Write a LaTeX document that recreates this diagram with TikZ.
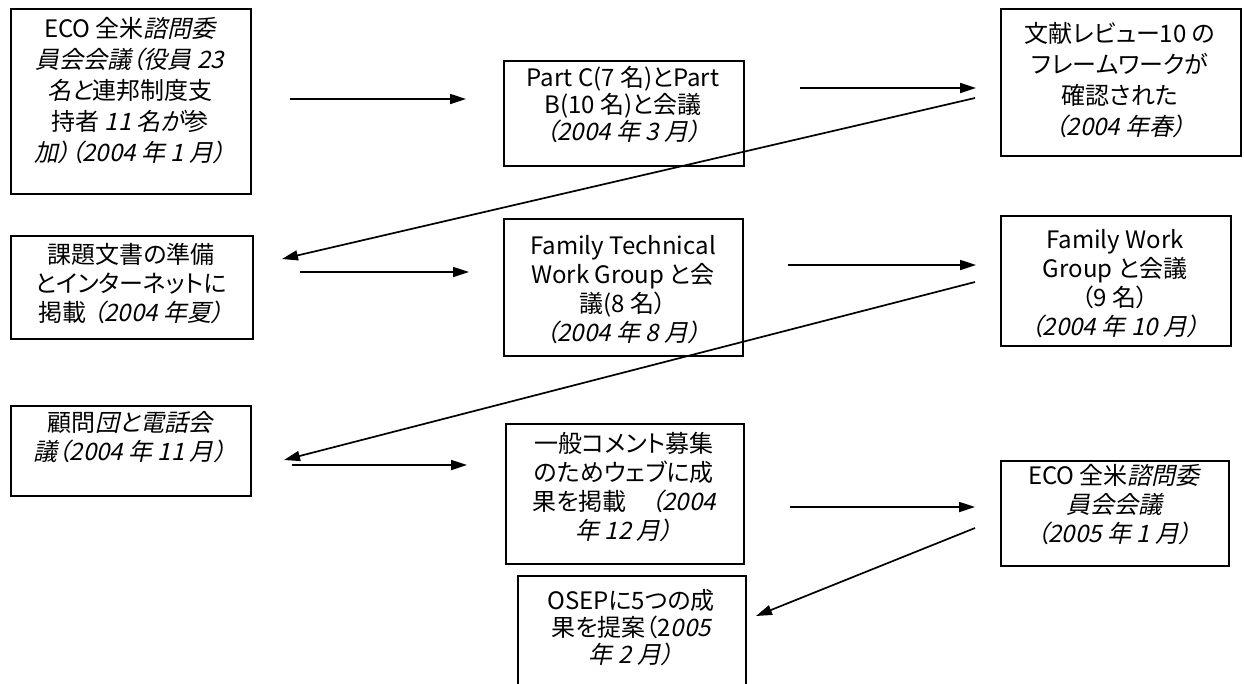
\documentclass[tikz,border=0pt]{standalone}
\usepackage{fontspec}
\setmainfont[RawFeature=+palt]{Noto Sans CJK JP}
\newfontfamily\jpslant[RawFeature=+palt,FakeSlant=0.22]{Noto Sans CJK JP}
\newcommand{\slnt}[1]{{\jpslant #1}}
\usetikzlibrary{arrows.meta}
\begin{document}
\begin{tikzpicture}[x=1pt,y=-1pt,
  boxst/.style={draw, line width=1.5pt, inner sep=0pt, anchor=north west},
  txt/.style={align=center, font=\fontsize{24}{29}\selectfont, inner sep=0pt},
  wide/.style={font=\fontsize{24}{31}\selectfont},
  tight/.style={font=\fontsize{24}{27}\selectfont},
  conn/.style={line width=1.7pt, -{Triangle[length=16pt,width=10pt]}}]
\useasboundingbox (0,0) rectangle (1244,683);
\clip (0,0) rectangle (1244,683);
\fill[white] (0,0) rectangle (1244,683);

% boxes
\node[boxst, minimum width=240pt, minimum height=185pt] (b1) at (10,8) {};
\node[boxst, minimum width=240pt, minimum height=105pt] (b2) at (503,60) {};
\node[boxst, minimum width=240pt, minimum height=147pt] (b3) at (1000,8) {};
\node[boxst, minimum width=242pt, minimum height=103pt] (b4) at (10,235) {};
\node[boxst, minimum width=239pt, minimum height=137pt] (b5) at (503,218) {};
\node[boxst, minimum width=230pt, minimum height=130pt] (b6) at (1000,215) {};
\node[boxst, minimum width=240pt, minimum height=90pt] (b7) at (10,405) {};
\node[boxst, minimum width=238pt, minimum height=140pt] (b8) at (505,423) {};
\node[boxst, minimum width=228pt, minimum height=105pt] (b9) at (1000,460) {};
\node[boxst, minimum width=228pt, minimum height=140pt] (b10) at (517,575) {};

% texts
\node[txt, wide] (t1) at (130,91) {ECO 全米\slnt{諮問委}\\\slnt{員会会議（役員 23}\\\slnt{名と}連邦制度支\\持者 \slnt{11 名が}参\\\slnt{加）（2004 年 1 月）}};
\node[txt, tight] (t2) at (623,105) {Part C(7 名)とPart\\B(10 名)と会議\\\slnt{（2004 年 3 月）}};
\node[txt, wide] (t3) at (1120,80) {文献レビュー10 の\\フレームワークが\\確認された\\\slnt{（2004 年春）}};
\node[txt] (t4) at (131,284) {課題文書の準備\\とインターネットに\\掲載 \slnt{（2004 年夏）}};
\node[txt] (t5) at (623,290) {Family Technical\\Work Group と会\\議(8 名）\\\slnt{（2004 年 8 月）}};
\node[txt] (t6) at (1115,284) {Family Work\\Group と会議\\（9 名）\\\slnt{（2004 年 10 月）}};
\node[txt] (t7) at (130,437) {顧問\slnt{団と電話会}\\\slnt{議（2004 年 11 月）}};
\node[txt] (t8) at (624,487) {一般コメント募集\\のためウェブに成\\果を掲載\quad\slnt{（2004}\\\slnt{年 12 月）}};
\node[txt] (t9) at (1114,505) {ECO 全米\slnt{諮問委}\\\slnt{員会会議}\\\slnt{（2005 年 1 月）}};
\node[txt, tight] (t10) at (631,628) {OSEPに5つの成\\果を提案（2\slnt{005}\\\slnt{年 2 月）}};

% connector end points
\coordinate (a1s) at (290,99);  \coordinate (a1e) at (466,99);
\coordinate (a2s) at (800,88);  \coordinate (a2e) at (976,88);
\coordinate (l1s) at (975,98);  \coordinate (l1e) at (282,259);
\coordinate (a4s) at (300,272); \coordinate (a4e) at (469,272);
\coordinate (a5s) at (788,265); \coordinate (a5e) at (976,265);
\coordinate (l2s) at (975,282); \coordinate (l2e) at (284,460);
\coordinate (a7s) at (292,465); \coordinate (a7e) at (467,465);
\coordinate (a8s) at (790,507); \coordinate (a8e) at (975,507);
\coordinate (l3s) at (975,528); \coordinate (l3e) at (756,616);

\draw[conn] (a1s) -- (a1e);
\draw[conn] (a2s) -- (a2e);
\draw[conn] (l1s) -- (l1e);
\draw[conn] (a4s) -- (a4e);
\draw[conn] (a5s) -- (a5e);
\draw[conn] (l2s) -- (l2e);
\draw[conn] (a7s) -- (a7e);
\draw[conn] (a8s) -- (a8e);
\draw[conn] (l3s) -- (l3e);
\end{tikzpicture}
\end{document}
